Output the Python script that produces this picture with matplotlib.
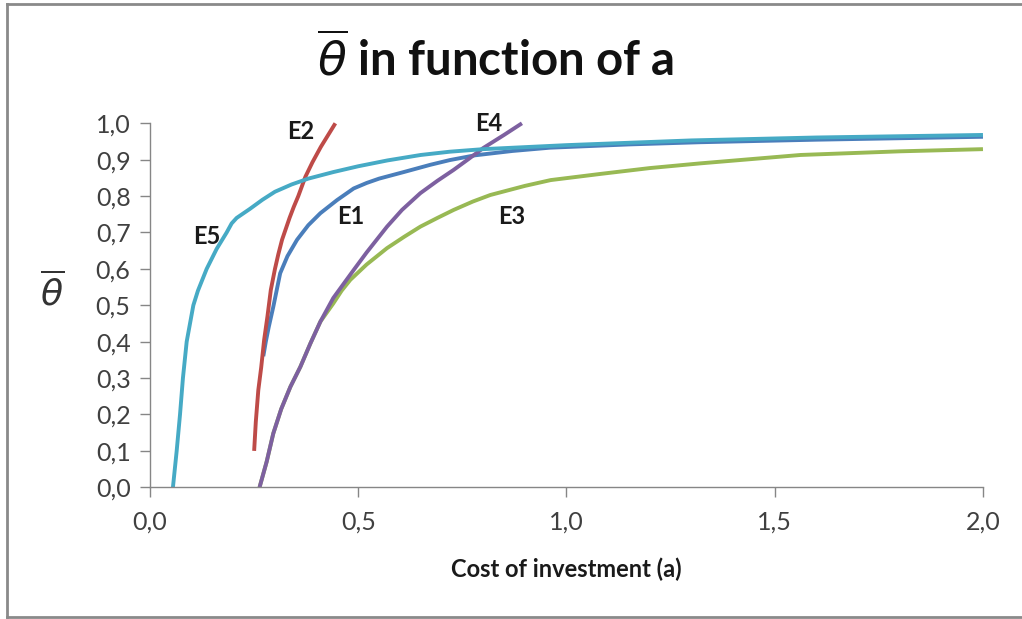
import matplotlib
matplotlib.use("Agg")
import matplotlib.pyplot as plt
from matplotlib.lines import Line2D

# ---- data ----
e1_a = [0.272, 0.278, 0.285, 0.296, 0.3125, 0.33, 0.353, 0.38, 0.409, 0.449, 0.489, 0.52, 0.55, 0.609, 0.673, 0.72, 0.78, 0.87, 0.96, 1.15, 1.32, 1.6, 2.0]
e1_y = [0.36, 0.40, 0.44, 0.496, 0.588, 0.635, 0.68, 0.72, 0.753, 0.789, 0.821, 0.836, 0.848, 0.866, 0.886, 0.899, 0.912, 0.924, 0.933, 0.942, 0.948, 0.955, 0.963]

e2_a = [0.25, 0.254, 0.260, 0.267, 0.274, 0.282, 0.290, 0.30, 0.308, 0.317, 0.326, 0.335, 0.345, 0.356, 0.373, 0.39, 0.41, 0.445]
e2_y = [0.1, 0.18, 0.267, 0.33, 0.405, 0.47, 0.542, 0.6, 0.64, 0.68, 0.71, 0.74, 0.77, 0.8, 0.853, 0.893, 0.935, 1.0]

e3_a = [0.263, 0.280, 0.296, 0.315, 0.337, 0.361, 0.385, 0.409, 0.44, 0.46, 0.481, 0.52, 0.569, 0.61, 0.649, 0.69, 0.729, 0.775, 0.817, 0.90, 0.962, 1.082, 1.2, 1.322, 1.562, 1.8, 2.0]
e3_y = [0.0, 0.07, 0.148, 0.215, 0.276, 0.331, 0.395, 0.455, 0.505, 0.54, 0.570, 0.612, 0.657, 0.688, 0.716, 0.74, 0.762, 0.785, 0.803, 0.828, 0.844, 0.861, 0.877, 0.89, 0.913, 0.923, 0.929]

e4_a = [0.263, 0.280, 0.296, 0.315, 0.337, 0.361, 0.385, 0.409, 0.44, 0.489, 0.52, 0.569, 0.605, 0.649, 0.69, 0.729, 0.765, 0.80, 0.85, 0.893]
e4_y = [0.0, 0.07, 0.148, 0.215, 0.276, 0.331, 0.395, 0.455, 0.52, 0.597, 0.645, 0.716, 0.762, 0.808, 0.842, 0.872, 0.902, 0.932, 0.968, 1.0]

e5_a = [0.055, 0.064, 0.072, 0.079, 0.088, 0.104, 0.115, 0.136, 0.16, 0.184, 0.196, 0.208, 0.24, 0.27, 0.30, 0.34, 0.38, 0.44, 0.5, 0.57, 0.65, 0.72, 0.8, 1.0, 1.3, 1.6, 2.0]
e5_y = [0.0, 0.1, 0.2, 0.3, 0.4, 0.5, 0.54, 0.6, 0.655, 0.7, 0.725, 0.74, 0.765, 0.79, 0.812, 0.832, 0.848, 0.866, 0.882, 0.898, 0.913, 0.922, 0.929, 0.94, 0.953, 0.961, 0.968]

series_names = ["E1", "E2", "E3", "E4", "E5"]
series_a = [e1_a, e2_a, e3_a, e4_a, e5_a]
series_y = [e1_y, e2_y, e3_y, e4_y, e5_y]
series_colors = ["#4A7EBB", "#BE4B48", "#98B954", "#7D60A0", "#46AAC5"]
label_pos = [(0.481, 0.743), (0.361, 0.977), (0.869, 0.743), (0.813, 1.0), (0.136, 0.688)]

x_ticks = [0.0, 0.5, 1.0, 1.5, 2.0]
x_tick_labels = ["0,0", "0,5", "1,0", "1,5", "2,0"]
y_ticks = [0.0, 0.1, 0.2, 0.3, 0.4, 0.5, 0.6, 0.7, 0.8, 0.9, 1.0]
y_tick_labels = ["0,0", "0,1", "0,2", "0,3", "0,4", "0,5", "0,6", "0,7", "0,8", "0,9", "1,0"]

title_text = r"$\overline{\theta}$ in function of a"
x_label = "Cost of investment (a)"
y_label = r"$\overline{\theta}$"

# ---- figure ----
plt.rcParams['font.family'] = ['Lato', 'DejaVu Sans']
plt.rcParams['mathtext.fontset'] = 'dejavusans'

fig = plt.figure(figsize=(10.22, 6.19), dpi=100)
ax = fig.add_axes([0.1468, 0.2128, 0.9618 - 0.1468, 0.8008 - 0.2128])

for name, a, y, c in zip(series_names, series_a, series_y, series_colors):
    ax.plot(a, y, color=c, lw=2.8, solid_capstyle='butt', solid_joinstyle='round', clip_on=False)

for name, (lx, ly) in zip(series_names, label_pos):
    ax.text(lx, ly, name, ha='center', va='center', fontsize=17, fontweight='bold', color='#1a1a1a')

ax.set_xlim(0, 2)
ax.set_ylim(0, 1)
ax.set_xticks(x_ticks)
ax.set_xticklabels(x_tick_labels)
ax.set_yticks(y_ticks)
ax.set_yticklabels(y_tick_labels)

gray = '#868686'
for s in ['top', 'right']:
    ax.spines[s].set_visible(False)
for s in ['left', 'bottom']:
    ax.spines[s].set_color(gray)
    ax.spines[s].set_linewidth(1.0)
ax.tick_params(axis='both', colors=gray, direction='out', length=7, width=1.0,
               labelcolor='#404040', labelsize=18)
ax.tick_params(axis='x', pad=10)
ax.tick_params(axis='y', pad=7)

ax.set_xlabel(x_label, fontsize=17, fontweight='bold', color='#1a1a1a', labelpad=17)
ax.text(-0.118, 0.54, y_label, transform=ax.transAxes, ha='center', va='center',
        fontsize=26, color='#333333')

fig.text(0.485, 0.905, title_text, ha='center', va='center', fontsize=34,
         fontweight='bold', color='#111111')

# chart border
bc = '#8a8a8a'
fig.add_artist(Line2D([7/1022, 7/1022], [1 - 4/619, 1 - 617/619], transform=fig.transFigure, color=bc, lw=2))
fig.add_artist(Line2D([7/1022, 1.0], [1 - 4/619, 1 - 4/619], transform=fig.transFigure, color=bc, lw=2))
fig.add_artist(Line2D([7/1022, 1.0], [1 - 617/619, 1 - 617/619], transform=fig.transFigure, color=bc, lw=2))

fig.savefig("out.png", dpi=100)
